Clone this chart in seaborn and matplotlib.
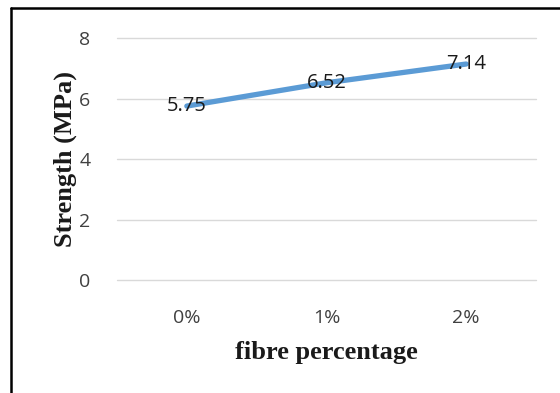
import matplotlib
matplotlib.use("Agg")
import matplotlib.pyplot as plt
from matplotlib.lines import Line2D
import seaborn as sns
import pandas as pd

categories = ["0%", "1%", "2%"]
strength = [5.75, 6.52, 7.14]
y_ticks = [0, 2, 4, 6, 8]

sns.set_theme(style="white")
plt.rcParams["font.family"] = ["Open Sans", "DejaVu Sans"]

W, H = 560, 393
fig = plt.figure(figsize=(W / 100, H / 100), dpi=100)
ax = fig.add_axes([117 / W, 1 - 280 / H, (536 - 117) / W, (280 - 38) / H])

df = pd.DataFrame({"fibre": categories, "strength": strength})
sns.lineplot(data=df, x="fibre", y="strength", ax=ax, color="#5B9BD5",
             linewidth=3.8, sort=False, zorder=2)

ax.set_xlim(-0.5, 2.5)
ax.set_ylim(0, 8)
ax.set_yticks(y_ticks)
ax.grid(axis="y", color="#D9D9D9", linewidth=1)
for gl in ax.get_ygridlines():
    gl.set_clip_on(False)
ax.set_axisbelow(True)
for s in ax.spines.values():
    s.set_visible(False)
ax.tick_params(axis="both", length=0, labelsize=14, colors="#404040")
ax.tick_params(axis="y", pad=19)
ax.tick_params(axis="x", pad=21)

for i, v in enumerate(strength):
    ax.text(i, v, f"{v:.2f}", ha="center", va="center", fontsize=14.5,
            color="#1A1A1A", zorder=3)

ax.set_xlabel("fibre percentage", family="Liberation Serif", fontweight="bold",
              fontsize=19, color="#1A1A1A", labelpad=10)
ax.set_ylabel("Strength (MPa)", family="Liberation Serif", fontweight="bold",
              fontsize=19, color="#1A1A1A", labelpad=2)

# Outer frame along top and left edges
fig.add_artist(Line2D([10.5 / W, 1], [1 - 7.5 / H, 1 - 7.5 / H],
                      transform=fig.transFigure, color="black", linewidth=1.8))
fig.add_artist(Line2D([10.5 / W, 10.5 / W], [0, 1 - 7.5 / H],
                      transform=fig.transFigure, color="black", linewidth=1.8))

fig.savefig("out.png", dpi=100)
